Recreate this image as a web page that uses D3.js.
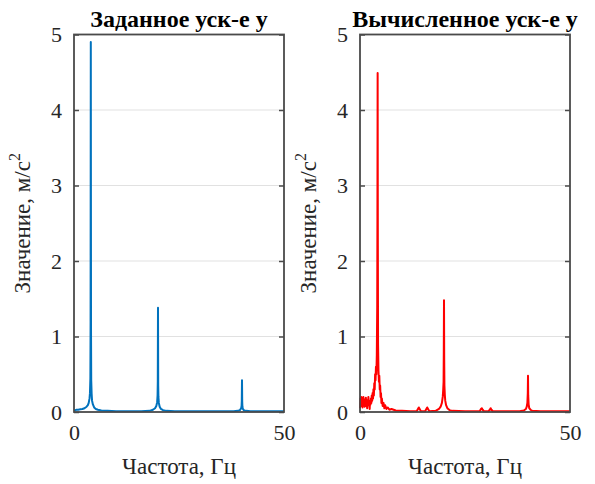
<!DOCTYPE html>
<html>
<head>
<meta charset="utf-8">
<script src="https://cdn.jsdelivr.net/npm/d3@7"></script>
<style>
  html, body { margin: 0; padding: 0; background: #fff; }
  svg { display: block; }
</style>
</head>
<body>
<svg id="chart" width="595" height="484"></svg>
<script>
// Amplitude spectra, Hz -> m/s^2
const freqGiven = [0, 0.3, 0.6, 1.0, 1.5, 2.0, 2.5, 3.0, 3.3, 3.5, 3.7, 3.8, 3.9, 3.95, 4.0, 4.05, 4.1, 4.2, 4.3, 4.5, 4.8, 5.2, 5.7, 6.5, 8, 10, 12, 14, 16, 18, 18.8, 19.3, 19.6, 19.8, 19.9, 19.95, 20.0, 20.05, 20.1, 20.2, 20.4, 20.7, 21.2, 22, 24, 27, 30, 33, 36, 38, 39, 39.5, 39.8, 39.9, 39.95, 40.0, 40.05, 40.1, 40.2, 40.5, 41, 42, 44, 47, 50];
const accGiven = [0.02, 0.025, 0.03, 0.03, 0.035, 0.04, 0.05, 0.07, 0.09, 0.12, 0.18, 0.25, 0.45, 1.2, 4.9, 1.1, 0.42, 0.24, 0.15, 0.1, 0.06, 0.04, 0.03, 0.02, 0.015, 0.01, 0.01, 0.01, 0.01, 0.015, 0.03, 0.05, 0.08, 0.13, 0.22, 0.4, 1.38, 0.35, 0.2, 0.12, 0.07, 0.04, 0.025, 0.015, 0.01, 0.01, 0.01, 0.01, 0.01, 0.01, 0.015, 0.025, 0.05, 0.08, 0.15, 0.42, 0.14, 0.07, 0.04, 0.02, 0.015, 0.01, 0.01, 0.01, 0.01];

const freqCalc = [0, 0.1, 0.2, 0.3, 0.4, 0.5, 0.6, 0.7, 0.8, 0.9, 1.0, 1.1, 1.2, 1.3, 1.4, 1.5, 1.6, 1.7, 1.8, 1.9, 2.0, 2.1, 2.2, 2.3, 2.4, 2.5, 2.6, 2.7, 2.8, 2.9, 3.0, 3.1, 3.2, 3.3, 3.4, 3.5, 3.6, 3.7, 3.8, 3.9, 4.0, 4.1, 4.15, 4.2, 4.25, 4.3, 4.4, 4.5, 4.6, 4.7, 4.8, 4.9, 5.0, 5.1, 5.2, 5.4, 5.6, 5.8, 6.0, 6.3, 6.6, 7.0, 7.5, 8.5, 10, 12, 13.5, 13.8, 14.0, 14.2, 14.5, 15.5, 15.8, 16.0, 16.2, 16.5, 18, 18.8, 19.2, 19.5, 19.7, 19.8, 19.9, 19.95, 20.0, 20.05, 20.1, 20.2, 20.3, 20.5, 20.8, 21.3, 22, 25, 28.5, 28.8, 29.0, 29.2, 29.5, 30.6, 30.9, 31.1, 31.3, 31.6, 35, 38, 39, 39.5, 39.7, 39.85, 39.95, 40.0, 40.05, 40.15, 40.3, 40.6, 41, 43, 46, 50];
const accCalc = [0.05, 0.18, 0.08, 0.2, 0.1, 0.16, 0.06, 0.14, 0.2, 0.09, 0.17, 0.07, 0.15, 0.1, 0.19, 0.08, 0.14, 0.05, 0.16, 0.11, 0.2, 0.09, 0.13, 0.04, 0.15, 0.1, 0.18, 0.12, 0.22, 0.15, 0.25, 0.18, 0.3, 0.22, 0.38, 0.3, 0.5, 0.42, 0.6, 0.5, 0.75, 1.4, 2.6, 4.49, 2.2, 0.9, 0.55, 0.4, 0.48, 0.3, 0.35, 0.2, 0.25, 0.12, 0.18, 0.08, 0.12, 0.05, 0.09, 0.04, 0.06, 0.03, 0.04, 0.02, 0.015, 0.01, 0.01, 0.04, 0.06, 0.04, 0.01, 0.01, 0.04, 0.06, 0.04, 0.01, 0.015, 0.04, 0.07, 0.12, 0.2, 0.28, 0.4, 0.8, 1.48, 0.7, 0.35, 0.22, 0.15, 0.09, 0.05, 0.025, 0.015, 0.01, 0.01, 0.04, 0.05, 0.03, 0.01, 0.01, 0.03, 0.05, 0.03, 0.01, 0.01, 0.01, 0.02, 0.04, 0.07, 0.12, 0.25, 0.48, 0.22, 0.1, 0.05, 0.03, 0.015, 0.01, 0.01, 0.01];

const yTicks = [0, 1, 2, 3, 4, 5];
const xTicks = [0, 50];
const titles = ["Заданное уск-е y", "Вычисленное уск-е y"];
const xLabel = "Частота, Гц";
const yLabel = "Значение, м/с";

const panels = [
  { title: titles[0], freq: freqGiven, acc: accGiven, color: "#0072BD", left: 74 },
  { title: titles[1], freq: freqCalc, acc: accCalc, color: "#FF0000", left: 360 }
];

const FONT = "'Liberation Serif', 'Times New Roman', 'DejaVu Serif', serif";
const svg = d3.select("#chart");
const plotW = 210, plotTop = 34.5, plotBottom = 412;
const axisColor = "#4a4a4a";

panels.forEach(p => {
  const x = d3.scaleLinear().domain([0, 50]).range([p.left, p.left + plotW]);
  const y = d3.scaleLinear().domain([0, 5]).range([plotBottom, plotTop]);
  const g = svg.append("g").style("font-family", FONT);

  // horizontal grid
  g.append("g").selectAll("line").data(yTicks.slice(1, -1)).join("line")
    .attr("x1", x(0)).attr("x2", x(50))
    .attr("y1", d => y(d)).attr("y2", d => y(d))
    .attr("stroke", "#e1e1e1").attr("stroke-width", 1.2);

  // spectrum line
  const line = d3.line().x((d, i) => x(p.freq[i])).y(d => y(d));
  g.append("path").datum(p.acc)
    .attr("d", line)
    .attr("fill", "none")
    .attr("stroke", p.color)
    .attr("stroke-width", 2)
    .attr("stroke-linejoin", "round");

  // left axis with labels, inward ticks
  g.append("g").attr("transform", `translate(${x(0)},0)`)
    .call(d3.axisLeft(y).tickValues(yTicks).tickSize(-5).tickPadding(12).tickFormat(d3.format("d")))
    .call(a => a.select(".domain").remove())
    .call(a => a.selectAll("line").attr("stroke", axisColor).attr("stroke-width", 1.5))
    .call(a => a.selectAll("text").attr("font-size", 22).attr("fill", "#262626").style("font-family", FONT));

  // right-side inward ticks
  g.append("g").attr("transform", `translate(${x(50)},0)`)
    .call(d3.axisRight(y).tickValues(yTicks).tickSize(-5).tickFormat(""))
    .call(a => a.select(".domain").remove())
    .call(a => a.selectAll("line").attr("stroke", axisColor).attr("stroke-width", 1.5));

  // bottom axis labels
  g.append("g").attr("transform", `translate(0,${plotBottom})`)
    .call(d3.axisBottom(x).tickValues(xTicks).tickSize(0).tickPadding(12).tickFormat(d3.format("d")))
    .call(a => a.select(".domain").remove())
    .call(a => a.selectAll("text").attr("font-size", 22).attr("fill", "#262626").style("font-family", FONT));

  // box
  g.append("rect")
    .attr("x", x(0)).attr("y", plotTop)
    .attr("width", x(50) - x(0)).attr("height", plotBottom - plotTop)
    .attr("fill", "none").attr("stroke", axisColor).attr("stroke-width", 1.8);

  // title
  g.append("text")
    .attr("x", (x(0) + x(50)) / 2).attr("y", 27)
    .attr("text-anchor", "middle")
    .attr("font-size", 24).attr("font-weight", "bold").attr("fill", "#000")
    .style("font-family", FONT)
    .text(p.title);

  // x label
  g.append("text")
    .attr("x", (x(0) + x(50)) / 2).attr("y", 474)
    .attr("text-anchor", "middle")
    .attr("font-size", 23).attr("fill", "#262626")
    .style("font-family", FONT)
    .text(xLabel);

  // y label with superscript
  const yl = g.append("text")
    .attr("transform", `translate(${p.left - 44},${(plotTop + plotBottom) / 2}) rotate(-90)`)
    .attr("text-anchor", "middle")
    .attr("font-size", 23).attr("fill", "#262626")
    .style("font-family", FONT);
  yl.append("tspan").text(yLabel);
  yl.append("tspan").attr("dy", -10).attr("font-size", 16).text("2");
});
</script>
</body>
</html>
